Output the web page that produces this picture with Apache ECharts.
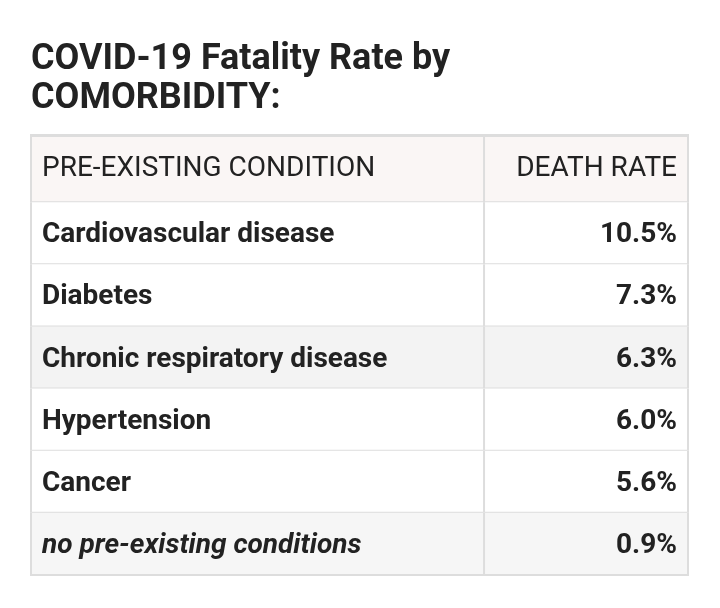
<!DOCTYPE html>
<html>
<head>
<meta charset="utf-8">
<script src="https://cdn.jsdelivr.net/npm/echarts@6/dist/echarts.min.js"></script>
<style>
html,body{margin:0;padding:0;background:#fff;}
#chart{width:720px;height:608px;}
</style>
</head>
<body>
<div id="chart"></div>
<script>
const titleText = 'COVID-19 Fatality Rate by\nCOMORBIDITY:';
const headers = ['PRE-EXISTING CONDITION', 'DEATH RATE'];
const conditions = ['Cardiovascular disease', 'Diabetes', 'Chronic respiratory disease', 'Hypertension', 'Cancer', 'no pre-existing conditions'];
const deathRates = [10.5, 7.3, 6.3, 6.0, 5.6, 0.9];

const rowKeys = ['header'].concat(conditions);
const SPLIT = 0.689;
const HEADER_EXTRA = 6;
const FONT = 'Roboto, "Noto Sans", sans-serif';
const rowBg = ['#faf6f5', '#ffffff', '#ffffff', '#f3f3f3', '#ffffff', '#ffffff', '#f6f6f6'];
const BORDER = '#dddddd';

const chart = echarts.init(document.getElementById('chart'), null, {renderer: 'canvas'});

function renderItem(params, api) {
  const r = api.value(1);
  const x0 = api.coord([0, r])[0];
  const x1 = api.coord([1, r])[0];
  const xs = api.coord([SPLIT, r])[0];
  const cy = api.coord([0, r])[1];
  const h = api.size([0, 1])[1];
  const isHeader = r === 0;
  const y0 = cy - h / 2 - (isHeader ? HEADER_EXTRA : 0), y1 = cy + h / 2;
  const last = r === rowKeys.length - 1;
  const leftText = isHeader ? headers[0] : conditions[r - 1];
  const rightText = isHeader ? headers[1] : deathRates[r - 1].toFixed(1) + '%';
  const weight = isHeader ? 'normal' : 'bold';
  const style = last ? 'italic ' : '';
  const ty = isHeader ? (y0 + y1) / 2 + 1 : cy + 2;
  const children = [
    {type: 'rect', shape: {x: x0, y: y0, width: x1 - x0, height: y1 - y0}, style: {fill: rowBg[r]}},
    {type: 'line', shape: {x1: x0, y1: y1, x2: x1, y2: y1}, style: {stroke: BORDER, lineWidth: 2}},
    {type: 'line', shape: {x1: x0 + 1, y1: y0, x2: x0 + 1, y2: y1}, style: {stroke: BORDER, lineWidth: 2}},
    {type: 'line', shape: {x1: x1 - 1, y1: y0, x2: x1 - 1, y2: y1}, style: {stroke: BORDER, lineWidth: 2}},
    {type: 'line', shape: {x1: xs, y1: y0, x2: xs, y2: y1}, style: {stroke: BORDER, lineWidth: 2}},
    {type: 'text', style: {text: leftText, x: x0 + 12, y: ty, align: 'left', verticalAlign: 'middle',
      font: style + weight + ' 28px ' + FONT, fill: '#222222'}},
    {type: 'text', style: {text: rightText, x: x1 - 12, y: ty, align: 'right', verticalAlign: 'middle',
      font: weight + ' 28px ' + FONT, fill: '#222222'}}
  ];
  if (isHeader) {
    children.push({type: 'line', shape: {x1: x0, y1: y0 + 1.5, x2: x1, y2: y0 + 1.5}, style: {stroke: BORDER, lineWidth: 3}});
  }
  return {type: 'group', children: children};
}

chart.setOption({
  animation: false,
  title: {
    text: titleText,
    left: 31,
    top: 40,
    padding: 0,
    textStyle: {fontFamily: FONT, fontSize: 36, fontWeight: 'bold', color: '#222222', lineHeight: 39}
  },
  grid: {left: 30, right: 31, top: 140, bottom: 33},
  xAxis: {type: 'value', min: 0, max: 1, show: false},
  yAxis: {type: 'category', data: rowKeys, inverse: true, show: false},
  series: [{
    type: 'custom',
    renderItem: renderItem,
    data: rowKeys.map((k, i) => [0, i]),
    encode: {x: 0, y: 1},
    clip: false
  }]
});
</script>
</body>
</html>
